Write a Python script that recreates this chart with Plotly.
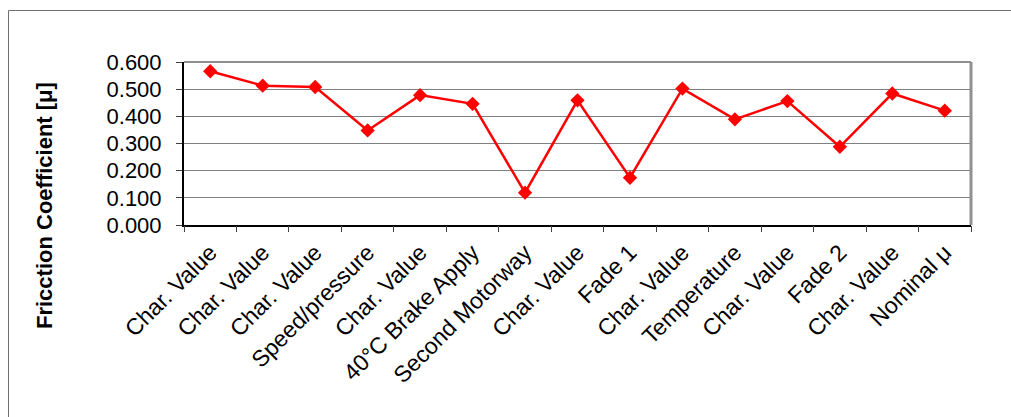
import plotly.graph_objects as go

# Friction coefficient per test stage
stages = [
    "Char. Value", "Char. Value", "Char. Value", "Speed/pressure", "Char. Value",
    "40°C Brake Apply", "Second Motorway", "Char. Value", "Fade 1", "Char. Value",
    "Temperature", "Char. Value", "Fade 2", "Char. Value", "Nominal μ",
]
mu_values = [0.566, 0.513, 0.508, 0.348, 0.478, 0.446, 0.119, 0.459,
             0.174, 0.502, 0.389, 0.456, 0.288, 0.484, 0.421]
y_ticks = [0.0, 0.1, 0.2, 0.3, 0.4, 0.5, 0.6]

W, H = 1011, 417
L, R, T, B = 184, 40, 62, 192
pw, ph = W - L - R, H - T - B

font_family = "Liberation Sans, Arial, sans-serif"
positions = list(range(len(stages)))
boundaries = [i - 0.5 for i in range(len(stages) + 1)]

fig = go.Figure()
fig.add_trace(go.Scatter(
    x=positions, y=mu_values, mode="lines+markers",
    line=dict(color="#FF0000", width=2.5),
    marker=dict(symbol="diamond", size=11, color="#FF0000"),
    showlegend=False, cliponaxis=False,
))
# invisible trace so the boundary-tick axis is drawn
fig.add_trace(go.Scatter(x=[boundaries[0]], y=[0], xaxis="x2", mode="markers",
                         marker=dict(opacity=0), showlegend=False, hoverinfo="skip"))

fig.update_layout(
    width=W, height=H,
    margin=dict(l=L, r=R, t=T, b=B),
    paper_bgcolor="white", plot_bgcolor="white",
    font=dict(family=font_family, size=21, color="black"),
    xaxis=dict(
        range=[-0.5, len(stages) - 0.5],
        tickmode="array", tickvals=positions, ticktext=stages,
        tickangle=-45, ticks="", showgrid=False, zeroline=False,
        showline=True, linecolor="black", linewidth=2,
        ticklabelstandoff=3,
        tickfont=dict(family=font_family, size=23),
    ),
    xaxis2=dict(
        range=[-0.5, len(stages) - 0.5], overlaying="x", side="bottom", anchor="y",
        tickmode="array", tickvals=boundaries, ticktext=[""] * len(boundaries),
        ticks="outside", ticklen=6, tickwidth=1, tickcolor="#404040",
        showgrid=False, zeroline=False, showline=False,
    ),
    yaxis=dict(
        range=[0, 0.6], tickmode="array", tickvals=y_ticks,
        tickformat=".3f", ticks="outside", ticklen=6, tickwidth=1, tickcolor="#404040",
        showgrid=True, gridcolor="#808080", gridwidth=1, zeroline=False,
        showline=True, linecolor="black", linewidth=2,
        ticklabelstandoff=10,
        tickfont=dict(family=font_family, size=22),
    ),
    shapes=[
        # plot area top and right border
        dict(type="line", xref="paper", yref="paper", x0=0, x1=1, y0=1, y1=1,
             line=dict(color="#909090", width=2)),
        dict(type="line", xref="paper", yref="paper", x0=1, x1=1, y0=0, y1=1,
             line=dict(color="#909090", width=3)),
        # chart frame
        dict(type="rect", xref="paper", yref="paper",
             x0=(8.5 - L) / pw, x1=(W + 20 - L) / pw,
             y0=(H - B - (H + 20)) / ph, y1=(H - B - 10.5) / ph,
             line=dict(color="#707070", width=1), layer="below"),
    ],
    annotations=[
        dict(text="<b>Fricction Coefficient [μ]</b>", textangle=-90,
             xref="paper", yref="paper",
             x=(44 - L) / pw, y=(H - B - 206) / ph,
             xanchor="center", yanchor="middle", showarrow=False,
             font=dict(family=font_family, size=22, color="black")),
    ],
)

fig.write_html("out.html")
